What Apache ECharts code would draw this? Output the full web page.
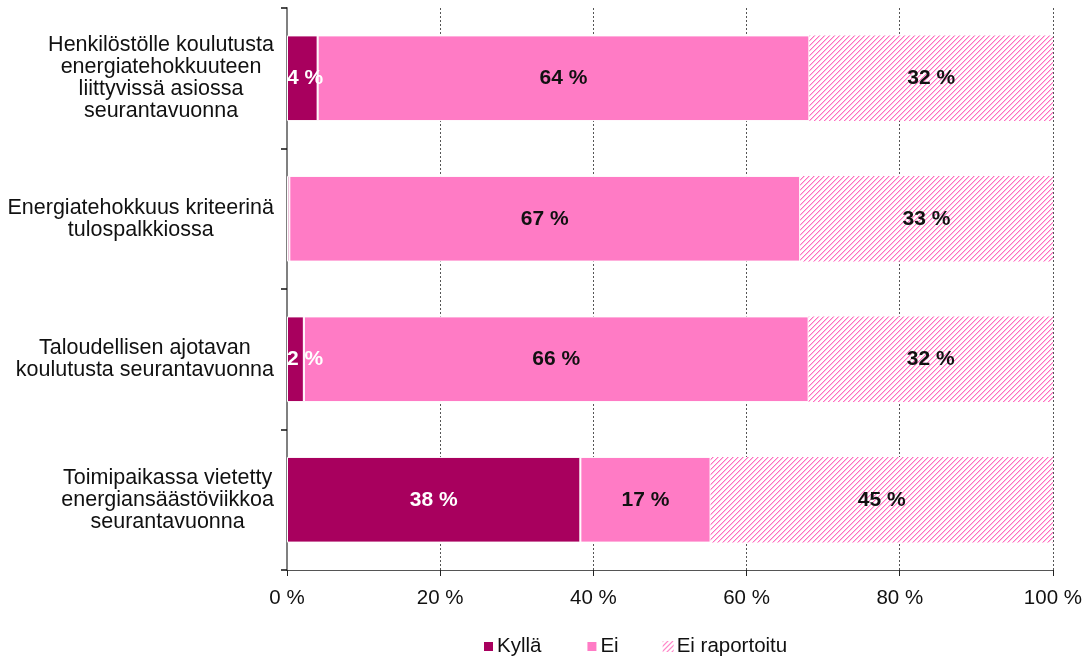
<!DOCTYPE html>
<html>
<head>
<meta charset="utf-8">
<script src="https://cdn.jsdelivr.net/npm/echarts@6/dist/echarts.min.js"></script>
<style>
html,body{margin:0;padding:0;background:#fff;}
#chart{width:1085px;height:659px;}
</style>
</head>
<body>
<div id="chart"></div>
<script>
const categories = [
  "Henkilöstölle koulutusta\nenergiatehokkuuteen\nliittyvissä asiossa\nseurantavuonna",
  "Energiatehokkuus kriteerinä\ntulospalkkiossa",
  "Taloudellisen ajotavan\nkoulutusta seurantavuonna",
  "Toimipaikassa vietetty\nenergiansäästöviikkoa\nseurantavuonna"
];
const seriesNames = ["Kyllä", "Ei", "Ei raportoitu"];
const kylla = [4.0, 0.3, 2.2, 38.3];
const ei = [64.2, 66.7, 65.9, 17.0];
const eiRaportoitu = [31.8, 33.0, 31.9, 44.7];
const xTicks = ["0 %", "20 %", "40 %", "60 %", "80 %", "100 %"];

const FONT = '"Liberation Sans", Arial, sans-serif';
const cDark = '#A8005E';
const cPink = '#FF7BC5';

function hatchCanvas() {
  const n = 10;
  const c = document.createElement('canvas');
  c.width = n; c.height = n;
  const ctx = c.getContext('2d');
  ctx.fillStyle = '#ffffff';
  ctx.fillRect(0, 0, n, n);
  for (let i = 0; i < n; i++) {
    for (let k = 0; k < n; k += 5) {
      const x = ((n - 1 - i) % 5 + 5) % 5 + k;
      ctx.fillStyle = '#FF6EC0';
      ctx.fillRect(x % n, i, 1, 1);
      ctx.fillStyle = '#FFC2E3';
      ctx.fillRect((x + 1) % n, i, 1, 1);
    }
  }
  return c;
}
const hatch = hatchCanvas();

const chart = echarts.init(document.getElementById('chart'), null, {renderer: 'canvas'});

function labelFmt(p) {
  return p.value >= 1 ? Math.round(p.value) + ' %' : '';
}

function makeSeries(name, values, color, labelColor) {
  return {
    name: name,
    type: 'bar',
    stack: 'total',
    data: values.map(function (v) {
      const d = {value: v};
      if (v < 10) d.label = {position: 'insideLeft', distance: 0};
      return d;
    }),
    barWidth: '61%',
    itemStyle: {color: color, borderColor: '#ffffff', borderWidth: 1},
    label: {
      show: true,
      position: 'inside',
      formatter: labelFmt,
      color: labelColor,
      fontFamily: FONT,
      fontWeight: 'bold',
      fontSize: 21
    },
    emphasis: {disabled: true},
    animation: false
  };
}

const s3 = makeSeries(seriesNames[2], eiRaportoitu, {image: hatch, repeat: 'repeat'}, '#111');
s3.itemStyle.borderWidth = 0;

const option = {
  animation: false,
  grid: {left: 287, right: 31, top: 8, bottom: 89, containLabel: false},
  xAxis: {
    type: 'value',
    min: 0, max: 100, interval: 20,
    axisLine: {show: true, lineStyle: {color: '#555', width: 1}},
    axisTick: {show: true, length: 6, lineStyle: {color: '#222'}},
    splitLine: {show: true, lineStyle: {color: '#555', type: [2, 2], width: 1}},
    axisLabel: {
      formatter: function (v) { return xTicks[Math.round(v / 20)]; },
      color: '#111', fontFamily: FONT, fontSize: 20.5, margin: 18
    }
  },
  yAxis: {
    type: 'category',
    inverse: true,
    data: categories,
    axisLine: {show: true, lineStyle: {color: '#808080', width: 2}},
    axisTick: {show: true, length: 6, lineStyle: {color: '#111', width: 1.5}},
    splitLine: {show: false},
    axisLabel: {
      margin: 13,
      align: 'right',
      formatter: function (v) {
        return v.split('\n').map(function (l) { return '{c|' + l + '}'; }).join('\n');
      },
      rich: {
        c: {align: 'center', fontFamily: FONT, fontSize: 21.5, color: '#111', lineHeight: 22}
      }
    }
  },
  legend: {
    left: 477, top: 631,
    itemWidth: 11, itemHeight: 11, itemGap: 44,
    icon: 'rect',
    textStyle: {fontFamily: FONT, fontSize: 20.5, color: '#111', padding: [0, 0, 0, -2]},
    data: seriesNames
  },
  series: [
    makeSeries(seriesNames[0], kylla, cDark, '#ffffff'),
    makeSeries(seriesNames[1], ei, cPink, '#111'),
    s3
  ]
};
chart.setOption(option);
</script>
</body>
</html>
